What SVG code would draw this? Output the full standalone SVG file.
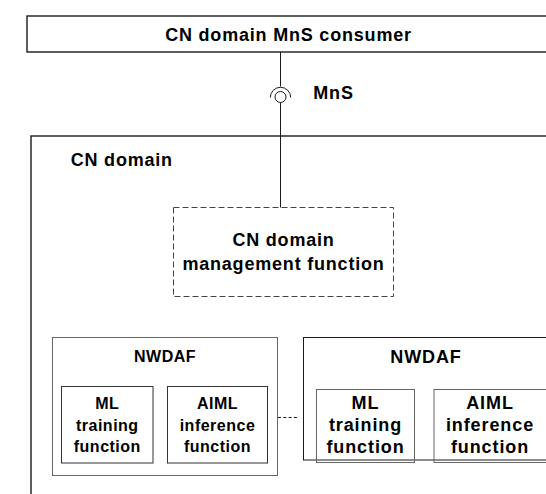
<svg xmlns="http://www.w3.org/2000/svg" width="546" height="494" viewBox="0 0 546 494">
  <style>
    .box { fill: #ffffff; stroke: #1a1a1a; stroke-width: 1.4; }
    .inner { fill: #ffffff; stroke: #333333; stroke-width: 1; }
    .grey { fill: #ffffff; stroke: #666666; stroke-width: 1; }
    .dashed { fill: #ffffff; stroke: #444444; stroke-width: 1; stroke-dasharray: 6 3; }
    .wire { fill: none; stroke: #1a1a1a; stroke-width: 1; }
    .dots { fill: none; stroke: #1a1a1a; stroke-width: 1; stroke-dasharray: 3 2.3; }
    text { font-family: "Liberation Sans", Arial, sans-serif; font-weight: bold; fill: #000000; }
    .lg { font-size: 18px; letter-spacing: 0.8px; }
    .sm { font-size: 16px; letter-spacing: 0.5px; }
    .md { font-size: 18px; letter-spacing: 0.9px; }
    .c { text-anchor: middle; }
  </style>

  <!-- consumer of the management service -->
  <g id="mns-consumer">
    <rect class="box" x="27" y="16" width="530" height="36"/>
    <text class="lg c" x="288.5" y="40.7">CN domain MnS consumer</text>
  </g>

  <!-- core network domain container -->
  <g id="cn-domain">
    <rect class="box" x="31" y="136" width="530" height="370"/>
    <text class="lg" x="70.7" y="165.7">CN domain</text>
  </g>

  <!-- domain management function (dashed) -->
  <g id="cn-domain-mgmt">
    <rect class="dashed" x="173.5" y="207.5" width="220" height="89"/>
    <text class="lg c" x="283.5" y="245.7">CN domain</text>
    <text class="lg c" x="283.5" y="270">management function</text>
  </g>

  <!-- first NWDAF instance -->
  <g id="nwdaf-1">
    <rect class="grey" x="52.5" y="337.5" width="225" height="138"/>
    <text class="sm c" x="165" y="361.7">NWDAF</text>
    <g id="nwdaf-1-training">
      <rect class="inner" x="61.5" y="386.5" width="91.5" height="76.5"/>
      <text class="sm c" x="107.3" y="409">ML</text>
      <text class="sm c" x="107.3" y="431">training</text>
      <text class="sm c" x="107.3" y="452">function</text>
    </g>
    <g id="nwdaf-1-inference">
      <rect class="inner" x="167.5" y="386.5" width="100" height="76.5"/>
      <text class="sm c" x="217.5" y="409">AIML</text>
      <text class="sm c" x="217.5" y="431">inference</text>
      <text class="sm c" x="217.5" y="452">function</text>
    </g>
  </g>

  <!-- second NWDAF instance (partly outside the view) -->
  <g id="nwdaf-2">
    <rect class="box" style="stroke-width:1" x="303.5" y="337.5" width="250" height="122.5"/>
    <text class="md c" x="426" y="363.3">NWDAF</text>
    <g id="nwdaf-2-training">
      <rect class="grey" style="fill:none" x="316.5" y="389.5" width="98" height="73"/>
      <text class="md c" x="365.5" y="409.3">ML</text>
      <text class="md c" x="365.5" y="431">training</text>
      <text class="md c" x="365.5" y="453">function</text>
    </g>
    <g id="nwdaf-2-inference">
      <rect class="grey" style="fill:none" x="434" y="389.5" width="113" height="73"/>
      <text class="md c" x="490" y="409.3">AIML</text>
      <text class="md c" x="490" y="431">inference</text>
      <text class="md c" x="490" y="453">function</text>
    </g>
  </g>

  <!-- connectors: MnS interface (ball and socket) and the ellipsis link -->
  <g id="connectors">
    <line class="wire" x1="280.5" y1="52" x2="280.5" y2="86.5"/>
    <path class="wire" d="M 270.3 97.5 A 10.2 10.2 0 0 1 290.7 97.5"/>
    <circle class="wire" cx="280.5" cy="97" r="5.5"/>
    <line class="wire" x1="280.5" y1="102.5" x2="280.5" y2="207.5"/>
    <text class="lg" x="313.3" y="99.3">MnS</text>
    <line class="dots" x1="278" y1="417.5" x2="299" y2="417.5"/>
  </g>
</svg>
